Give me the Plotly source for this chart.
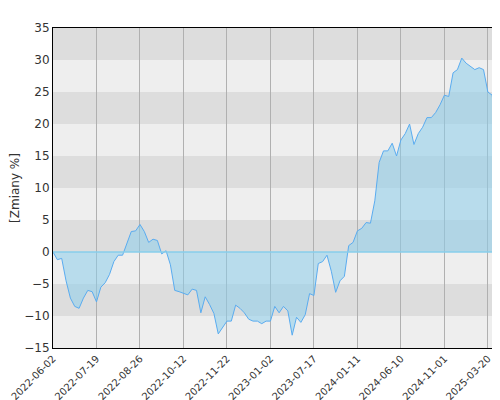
import plotly.graph_objects as go

values = [0, -1.2, -1, -4.5, -7.2, -8.5, -8.8, -7.2, -6, -6.2,
          -7.8, -5.5, -4.8, -3.5, -1.5, -0.5, -0.5, 1.5, 3.2, 3.3,
          4.3, 3.2, 1.5, 2, 1.8, -0.3, 0.2, -2, -6, -6.2,
          -6.5, -6.7, -5.8, -6, -9.5, -7, -8.2, -9.6, -12.8, -11.8,
          -10.8, -10.8, -8.3, -8.8, -9.5, -10.5, -10.8, -10.8, -11.2, -10.8,
          -10.8, -8.5, -9.5, -8.5, -9.2, -13, -10.2, -11, -9.8, -6.5,
          -6.8, -1.8, -1.5, -0.5, -3, -6.3, -4.5, -3.8, 1, 1.5,
          3.3, 3.7, 4.6, 4.5, 8, 14, 15.8, 15.8, 17, 15,
          17.5, 18.5, 20, 16.8, 18.5, 19.5, 21, 21, 21.8, 23,
          24.5, 24.3, 28, 28.5, 30.3, 29.5, 29, 28.5, 28.8, 28.5,
          25, 24.5, 18, 20, 23]
tick_labels = ["2022-06-02", "2022-07-19", "2022-08-26", "2022-10-12", "2022-11-22",
               "2023-01-02", "2023-07-17", "2024-01-11", "2024-06-10", "2024-11-01",
               "2025-03-20"]

x = list(range(len(values)))
fig = go.Figure(go.Scatter(
    x=x, y=values, mode="lines", fill="tozeroy",
    line=dict(color="#5aacf0", width=1),
    fillcolor="rgba(140,205,235,0.55)", hoverinfo="skip"))

shapes = []
for k in range(10):
    lo = -15 + 5 * k
    shapes.append(dict(type="rect", xref="paper", yref="y", x0=0, x1=1, y0=lo, y1=lo + 5,
                       fillcolor="#dddddd" if k % 2 == 1 else "#eeeeee",
                       line_width=0, layer="below"))
shapes.append(dict(type="line", xref="paper", yref="y", x0=0, x1=1, y0=0, y1=0,
                   line=dict(color="#87ceeb", width=1.5)))

fig.update_layout(
    width=500, height=400, showlegend=False,
    margin=dict(l=45, r=1, t=20, b=60),
    paper_bgcolor="white", plot_bgcolor="#eeeeee",
    font=dict(family="DejaVu Sans", size=12, color="#333"),
    shapes=shapes,
    xaxis=dict(range=[0, 104.4], tickvals=[10 * i for i in range(len(tick_labels))],
               ticktext=tick_labels, tickangle=-45, showgrid=True,
               gridcolor="#b0b0b0", gridwidth=1, zeroline=False,
               showline=True, linecolor="black", mirror=True, ticks="",
               tickfont=dict(size=10), automargin=False, layer="above traces"),
    yaxis=dict(range=[-15, 35], dtick=5, showgrid=False, zeroline=False,
               showline=True, linecolor="black", mirror=True, automargin=False,
               title=dict(text="[Zmiany %]", standoff=4, font=dict(size=12))),
)
fig.write_html("out.html")
